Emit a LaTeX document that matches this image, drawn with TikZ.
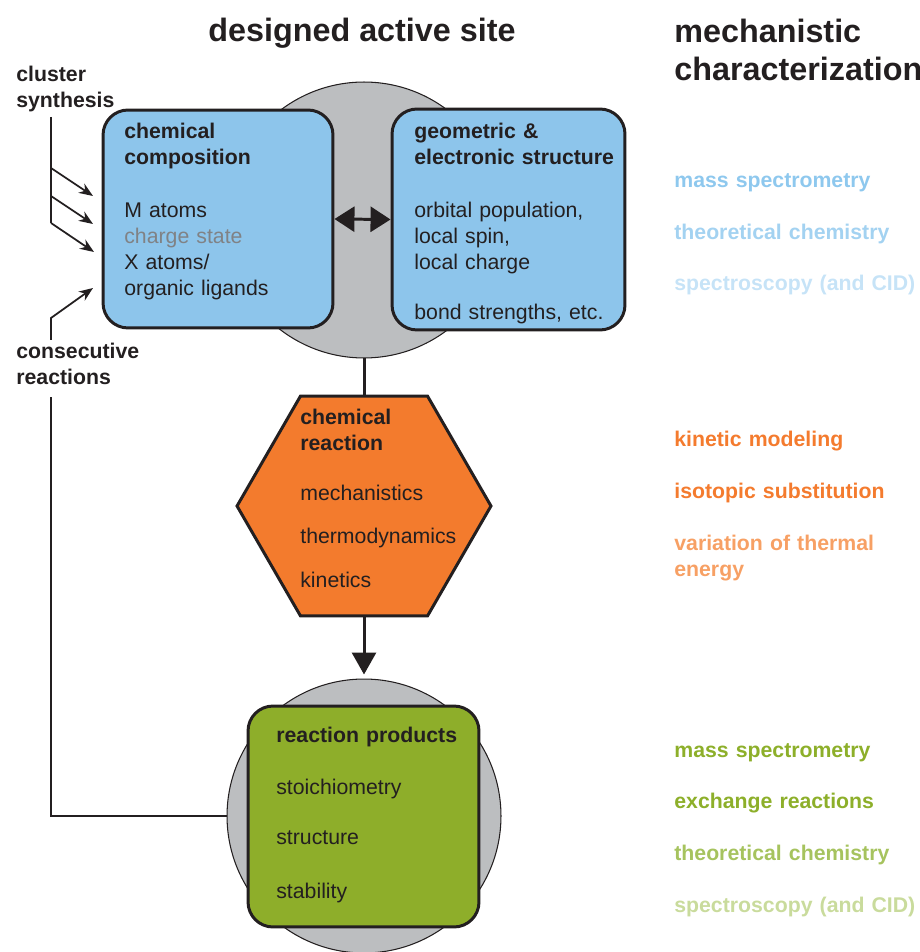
\documentclass[tikz,border=0pt]{standalone}
\usepackage{fontspec}
\setmainfont{Liberation Sans}
\usetikzlibrary{shapes.geometric,arrows.meta}

\definecolor{inkdark}{HTML}{231F20}
\definecolor{chargegray}{HTML}{808285}
\definecolor{sitegray}{HTML}{BCBEC0}
\definecolor{boxblue}{HTML}{8DC5EB}
\definecolor{boxorange}{HTML}{F37B2D}
\definecolor{boxgreen}{HTML}{8EAE2A}
\definecolor{blueA}{HTML}{8EC8EE}
\definecolor{blueB}{HTML}{A3D2F1}
\definecolor{blueC}{HTML}{C6E3F7}
\definecolor{orangeA}{HTML}{F47B2E}
\definecolor{orangeB}{HTML}{F7A064}
\definecolor{greenA}{HTML}{8DAF2A}
\definecolor{greenB}{HTML}{A6C35E}
\definecolor{greenC}{HTML}{C9DB9C}

\tikzset{
	site/.style={circle, draw=inkdark, line width=0.6pt, fill=sitegray, minimum size=5.52cm, inner sep=0pt},
	panel/.style={draw=inkdark, line width=1.7pt, rounded corners=0.5cm, inner sep=0pt},
	body/.style={font=\fontsize{12.1}{14.8}\selectfont, text=inkdark, align=left, anchor=base west, inner sep=0pt, text width=5cm},
	mech/.style={font=\bfseries\fontsize{12.1}{14.8}\selectfont, align=left, anchor=base west, inner sep=0pt, text width=5cm},
	side/.style={mech, text=inkdark},
	heading/.style={font=\bfseries\fontsize{18.4}{21.6}\selectfont, text=inkdark, inner sep=0pt},
	link/.style={draw=inkdark, line width=1.7pt},
	feedline/.style={draw=inkdark, line width=1pt},
	feed/.style={feedline, -{Stealth[length=0.28cm, width=0.22cm]}}
}

\begin{document}
\begin{tikzpicture}[x=0.02cm, y=-0.02cm]
	\useasboundingbox (0,0) rectangle (919,952);

	% grey sites
	\node[site] (topsite) at (364,220) {};
	\node[site, minimum size=5.48cm] (botsite) at (364,816) {};

	% boxes
	\node[panel, fill=boxblue, minimum width=4.6cm, minimum height=4.36cm] (comp) at (218,219) {};
	\node[panel, fill=boxblue, minimum width=4.66cm, minimum height=4.42cm] (geom) at (508.5,219.5) {};
	\node[regular polygon, regular polygon sides=6, minimum size=5.08cm, inner sep=0pt,
		draw=inkdark, line width=1.7pt, fill=boxorange] (hex) at (364,506) {};
	\node[panel, fill=boxgreen, minimum width=4.62cm, minimum height=4.42cm] (prod) at (363.5,816.5) {};

	% box texts
	\node[body] (compTxt) at (124,139) {\textbf{chemical}\\\textbf{composition}\\[14.8pt]
		M atoms\\{\color{chargegray}charge state}\\X atoms/\\organic ligands};
	\node[body] (geomTxt) at (414,139) {\textbf{geometric \&}\\\textbf{electronic structure}\\[14.8pt]
		orbital population,\\local spin,\\local charge\\[14.2pt]bond strengths, etc.};
	\node[body] (hexTxt) at (300,424) {\textbf{chemical}\\\textbf{reaction}\\[13.7pt]
		mechanistics\\[9.7pt]thermodynamics\\[10.2pt]kinetics};
	\node[body] (prodTxt) at (276,742) {\textbf{reaction products}\\[14.8pt]
		stoichiometry\\[14.2pt]structure\\[15.4pt]stability};

	% connectors
	\draw[link, {Triangle[length=0.4cm, width=0.5cm]}-{Triangle[length=0.4cm, width=0.5cm]}] (comp.east) -- (geom.west);
	\draw[link] (topsite.south) -- (hex.north);
	\draw[link, -{Triangle[length=0.44cm, width=0.48cm]}, shorten >=0.08cm] (hex.south) -- (botsite.north);

	% headings
	\node[heading, anchor=base] (siteTitle) at (362,42) {designed active site};
	\node[heading, anchor=base west, align=left, text width=7cm] (mechTitle) at (674,43) {mechanistic\\characterization};

	% side labels
	\node[side] (synLbl) at (16,82) {cluster\\synthesis};
	\node[side] (consLbl) at (16,358) {consecutive\\reactions};

	% cluster synthesis arrows
	\coordinate (synTop) at (51,117);
	\coordinate (synBot) at (51,223);
	\coordinate (synA) at (51,168);
	\coordinate (synB) at (51,196);
	\coordinate (tipA) at (93,196);
	\coordinate (tipB) at (93,224);
	\coordinate (tipC) at (94,252);
	\draw[feedline] (synTop) -- (synBot);
	\draw[feed] (synA) -- (tipA);
	\draw[feed] (synB) -- (tipB);
	\draw[feed] (synBot) -- (tipC);

	% consecutive reactions loop
	\coordinate (consFoot) at (51,397);
	\coordinate (consTop) at (51,340);
	\coordinate (consTip) at (93,288);
	\draw[feedline] (botsite.west) -| (consFoot);
	\draw[feed] (consTop) -- ++(0,-22) -- (consTip);

	% mechanistic characterization
	\node[mech, text=blueA] (msBlue) at (674,188) {mass spectrometry};
	\node[mech, text=blueB] (thBlue) at (674,240) {theoretical chemistry};
	\node[mech, text=blueC] (spBlue) at (674,291) {spectroscopy (and CID)};

	\node[mech, text=orangeA] (kinOr) at (674,446) {kinetic modeling};
	\node[mech, text=orangeA] (isoOr) at (674,498) {isotopic substitution};
	\node[mech, text=orangeB] (varOr) at (674,550) {variation of thermal\\energy};

	\node[mech, text=greenA] (msGr) at (674,757) {mass spectrometry};
	\node[mech, text=greenA] (exGr) at (674,808) {exchange reactions};
	\node[mech, text=greenB] (thGr) at (674,860) {theoretical chemistry};
	\node[mech, text=greenC] (spGr) at (674,912) {spectroscopy (and CID)};
\end{tikzpicture}
\end{document}
